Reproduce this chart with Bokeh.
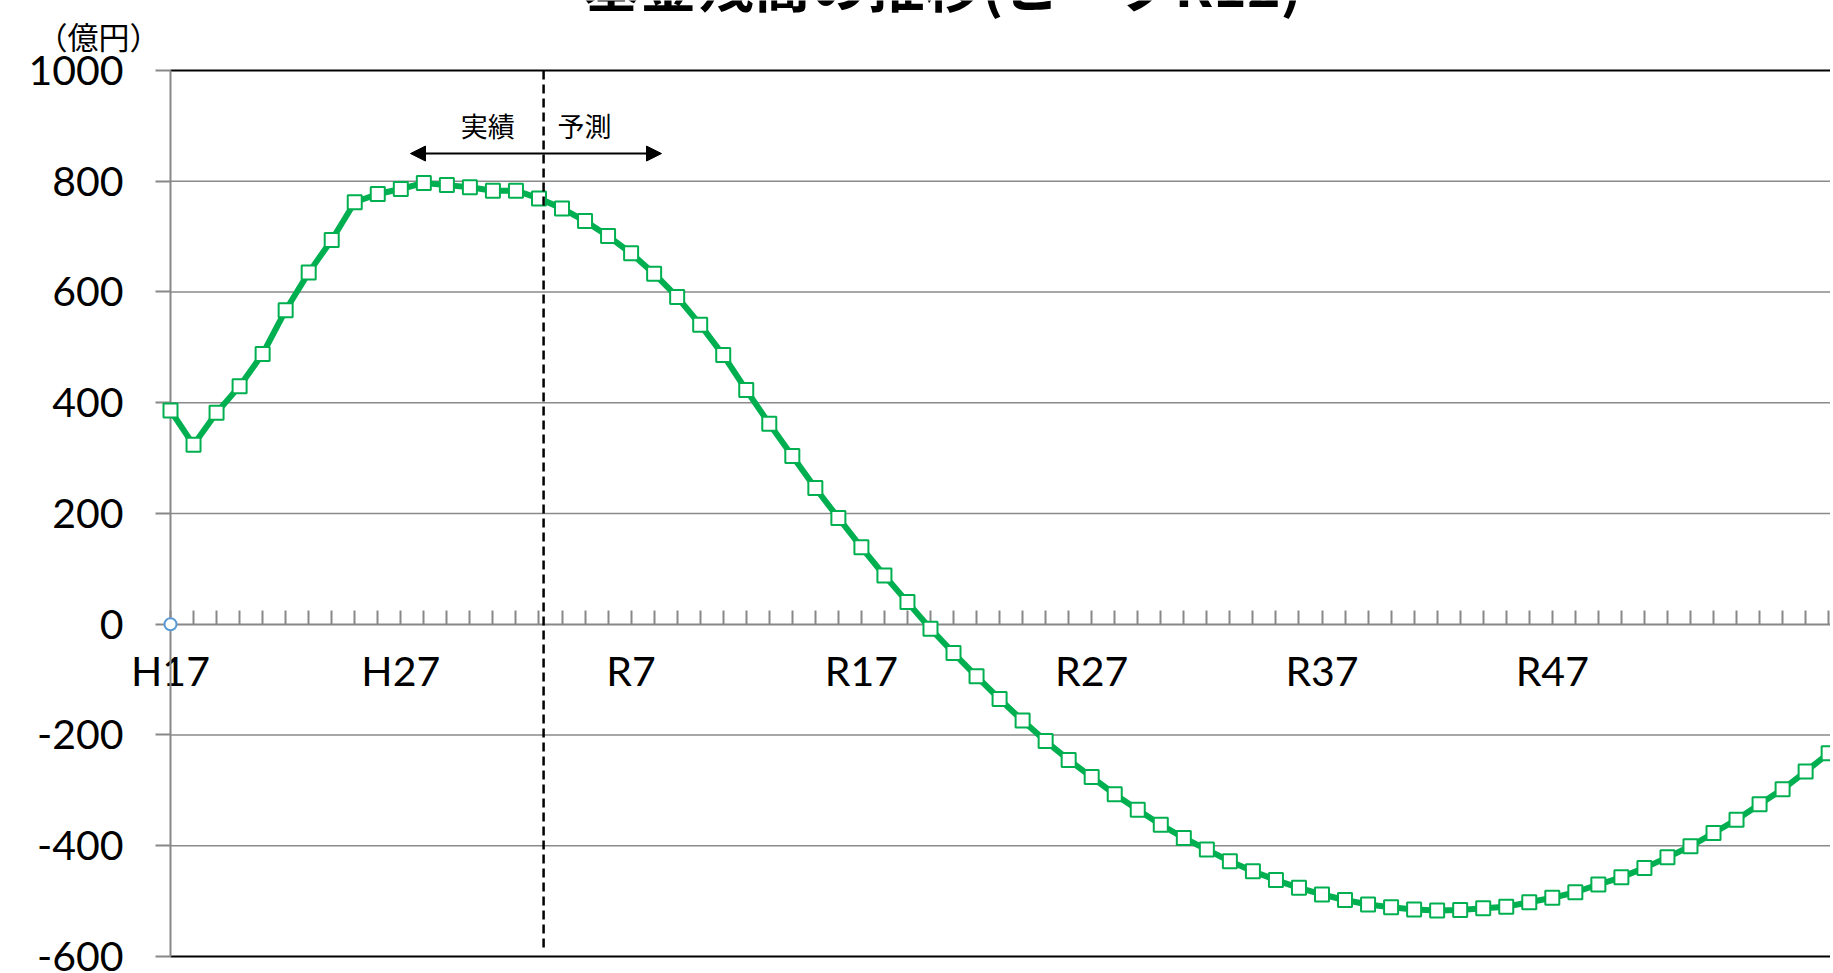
from bokeh.plotting import figure
from bokeh.models import FixedTicker, LinearAxis, Label, Arrow, NormalHead, Range1d
from bokeh.embed import file_html
from bokeh.resources import INLINE

# ---------------- data ----------------
years = ["H%d" % n for n in range(17, 31)] + ["R%d" % n for n in range(1, 60)]
balance = [386, 324, 382, 430, 488, 567, 635, 694, 762, 777,
           786, 797, 793, 789, 783, 783, 769, 751, 728, 701,
           670, 633, 591, 541, 486, 423, 362, 304, 246, 192,
           139, 88, 40, -8, -52, -94, -135, -174, -211, -245,
           -276, -307, -335, -362, -386, -407, -428, -446, -462, -476,
           -488, -498, -506, -511, -515, -517, -516, -513, -510, -502,
           -494, -484, -470, -457, -440, -421, -401, -377, -353, -325,
           -298, -266, -233]
shown_labels = ["H17", "H27", "R7", "R17", "R27", "R37", "R47"]
y_ticks = [-600, -400, -200, 0, 200, 400, 600, 800, 1000]
grid_values = [-400, -200, 200, 400, 600, 800]
frame_values = [-600, 1000]
origin_series = [0]

title_text = "基金残高の推移(ピークR12)"
unit_text = "（億円）"
actual_text = "実績"
forecast_text = "予測"

idx = list(range(len(balance)))

# ---------------- figure ----------------
X_START, X_END = -7.382, 72.08
Y_BOTTOM, Y_TOP = -627.1, 1126.4

p = figure(width=1830, height=971, output_backend="svg", toolbar_location=None,
           x_range=Range1d(X_START, X_END), y_range=Range1d(Y_BOTTOM, Y_TOP),
           x_axis_location=None, y_axis_location=None, min_border=0)
p.outline_line_color = None
p.background_fill_color = "white"
p.border_fill_color = "white"
p.xgrid.visible = False
p.ygrid.visible = False

# gridlines (from the y axis to the right edge)
p.segment(x0=[0] * len(grid_values), y0=grid_values,
          x1=[X_END] * len(grid_values), y1=grid_values,
          line_color="#8a8a8a", line_width=1.6, level="underlay")
p.segment(x0=[0] * len(frame_values), y0=frame_values,
          x1=[X_END] * len(frame_values), y1=frame_values,
          line_color="black", line_width=2.2, level="underlay")

# y axis
ya = LinearAxis(fixed_location=0, bounds=(-600, 1000))
ya.ticker = FixedTicker(ticks=y_ticks)
ya.major_label_overrides = {t: str(t) for t in y_ticks}
ya.axis_line_color = "#888888"
ya.axis_line_width = 2
ya.major_tick_line_color = "#888888"
ya.major_tick_line_width = 2
ya.major_tick_out = 15
ya.major_tick_in = 0
ya.minor_tick_line_color = None
ya.major_label_standoff = 32
ya.major_label_text_font = "Lato"
ya.major_label_text_font_size = "41px"
ya.major_label_text_color = "black"
ya.level = "underlay"
p.add_layout(ya, "left")

# x axis at y = 0
xa = LinearAxis(fixed_location=0, bounds=(0, X_END))
xa.ticker = FixedTicker(ticks=idx)
xa.major_label_overrides = {i: (years[i] if years[i] in shown_labels else "") for i in idx}
xa.axis_line_color = "#888888"
xa.axis_line_width = 2
xa.major_tick_line_color = "#888888"
xa.major_tick_line_width = 2
xa.major_tick_in = 14
xa.major_tick_out = 0
xa.minor_tick_line_color = None
xa.major_label_standoff = 22
xa.major_label_text_font = "Lato"
xa.major_label_text_font_size = "41px"
xa.major_label_text_color = "black"
xa.level = "underlay"
p.add_layout(xa, "below")

# data
p.line(idx, balance, line_color="#00B050", line_width=6)
p.scatter(idx, balance, marker="square", size=14, fill_color="white",
          line_color="#00B050", line_width=2)
p.scatter([0], origin_series, marker="circle", size=12, fill_color="white",
          line_color="#5B9BD5", line_width=2)

# divider between actual / forecast
divider_x = 16.2
p.segment(x0=[divider_x], y0=[1000], x1=[divider_x], y1=[-585],
          line_color="black", line_width=2.5, line_dash="9 5")

# double arrow
p.add_layout(Arrow(x_start=10.42, y_start=850, x_end=21.32, y_end=850,
                   line_color="black", line_width=2,
                   start=NormalHead(size=15, fill_color="black", line_color="black"),
                   end=NormalHead(size=15, fill_color="black", line_color="black")))

p.add_layout(Label(x=13.78, y=900, text=actual_text, text_font="Noto Sans CJK JP",
                   text_font_size="27px", text_align="center", text_baseline="middle",
                   text_color="black"))
p.add_layout(Label(x=17.98, y=900, text=forecast_text, text_font="Noto Sans CJK JP",
                   text_font_size="27px", text_align="center", text_baseline="middle",
                   text_color="black"))

# unit label and (cut-off) title
p.add_layout(Label(x=-3.13, y=1064, text=unit_text, text_font="Noto Sans CJK JP",
                   text_font_size="31px", text_align="center", text_baseline="middle",
                   text_color="black"))
p.add_layout(Label(x=33.52, y=1160, text=title_text, text_font="Noto Sans CJK JP",
                   text_font_size="57px", text_font_style="bold", text_align="center",
                   text_baseline="alphabetic", text_color="black"))

open("out.html", "w").write(file_html(p, INLINE))
